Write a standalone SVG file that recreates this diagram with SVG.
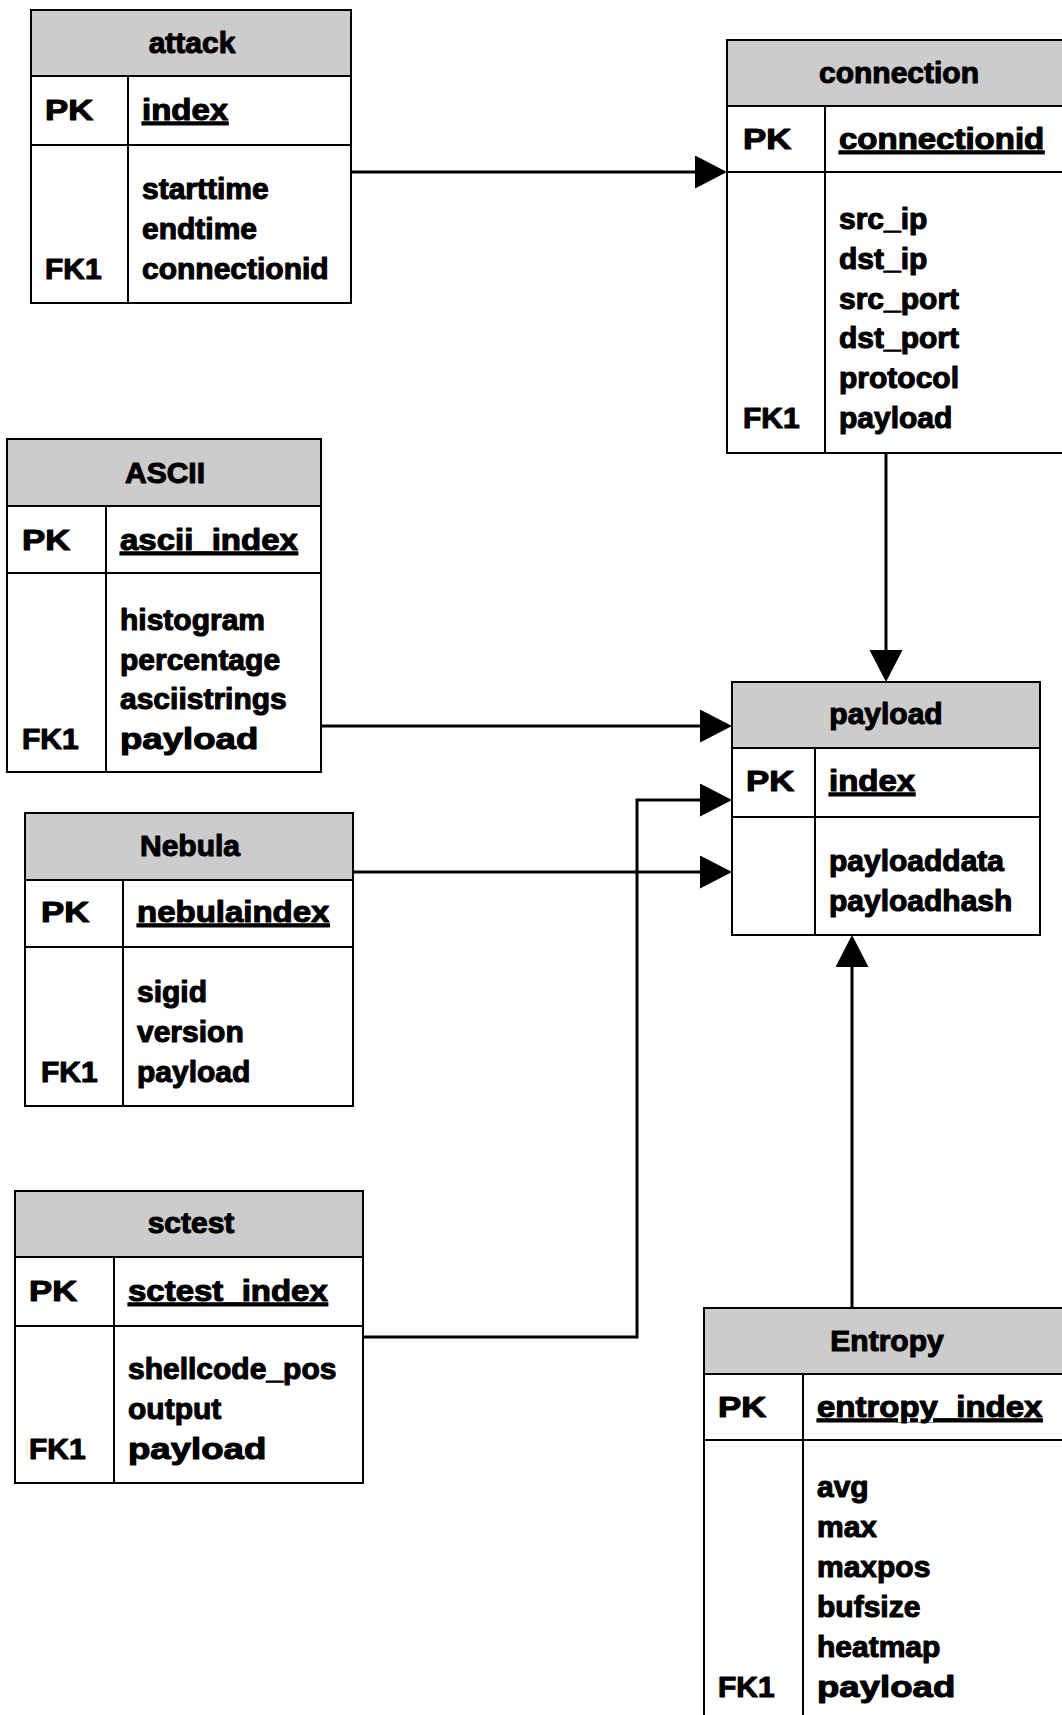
<svg xmlns="http://www.w3.org/2000/svg" width="1062" height="1715" viewBox="0 0 1062 1715">
  <style>
    .hdr { fill: #cccccc; stroke: #000; stroke-width: 2; }
    .box { fill: #ffffff; stroke: #000; stroke-width: 2; }
    .sep { stroke: #000; stroke-width: 2; fill: none; }
    text { font-family: "Liberation Sans", Arial, sans-serif; font-weight: bold; font-size: 30px; fill: #000; stroke: #000; stroke-width: 1.1; stroke-linejoin: round; }
    .title { text-anchor: middle; }
    .key { text-decoration: underline; }
    .conn { stroke: #000; stroke-width: 3; fill: none; marker-end: url(#arrow); }
  </style>
  <defs>
    <marker id="arrow" markerUnits="userSpaceOnUse" markerWidth="33" markerHeight="34" refX="0" refY="16.5" orient="auto">
      <path d="M0,0 L32,16.5 L0,33 Z" fill="#000"/>
    </marker>
  </defs>
  <rect width="1062" height="1715" fill="#ffffff"/>

  <!-- key columns and a few field names are set in a horizontally widened face (matrix sx) -->

  <!-- attack -->
  <g id="attack">
    <rect class="box" x="31" y="10" width="320" height="293"/>
    <rect class="hdr" x="31" y="10" width="320" height="66"/>
    <line class="sep" x1="31" y1="145" x2="351" y2="145"/>
    <line class="sep" x1="128" y1="76" x2="128" y2="303"/>
    <text class="title" x="192" y="53">attack</text>
    <text transform="matrix(1.16 0 0 1 45 120)">PK</text>
    <text class="key" transform="matrix(1.1 0 0 1 142 120)">index</text>
    <text x="142" y="199">starttime</text>
    <text x="142" y="239">endtime</text>
    <text x="45" y="279">FK1</text>
    <text x="142" y="279">connectionid</text>
  </g>

  <!-- connection -->
  <g id="connection">
    <rect class="box" x="727" y="40" width="344" height="413"/>
    <rect class="hdr" x="727" y="40" width="344" height="66"/>
    <line class="sep" x1="727" y1="172" x2="1071" y2="172"/>
    <line class="sep" x1="825" y1="106" x2="825" y2="453"/>
    <text class="title" x="899" y="83">connection</text>
    <text transform="matrix(1.16 0 0 1 743 149)">PK</text>
    <text class="key" transform="matrix(1.1 0 0 1 839 149)">connectionid</text>
    <text x="839" y="229">src_ip</text>
    <text x="839" y="269">dst_ip</text>
    <text x="839" y="309">src_port</text>
    <text x="839" y="348">dst_port</text>
    <text x="839" y="388">protocol</text>
    <text x="743" y="428">FK1</text>
    <text x="839" y="428">payload</text>
  </g>

  <!-- ASCII -->
  <g id="ascii">
    <rect class="box" x="7" y="439" width="314" height="333"/>
    <rect class="hdr" x="7" y="439" width="314" height="67"/>
    <line class="sep" x1="7" y1="573" x2="321" y2="573"/>
    <line class="sep" x1="106" y1="506" x2="106" y2="772"/>
    <text class="title" x="165" y="483">ASCII</text>
    <text transform="matrix(1.16 0 0 1 22 550)">PK</text>
    <text class="key" transform="matrix(1.1 0 0 1 120 550)">ascii_index</text>
    <text x="120" y="630">histogram</text>
    <text x="120" y="670">percentage</text>
    <text x="120" y="709">asciistrings</text>
    <text x="22" y="749">FK1</text>
    <text transform="matrix(1.22 0 0 1 120 749)">payload</text>
  </g>

  <!-- Nebula -->
  <g id="nebula">
    <rect class="box" x="25" y="813" width="328" height="293"/>
    <rect class="hdr" x="25" y="813" width="328" height="67"/>
    <line class="sep" x1="25" y1="947" x2="353" y2="947"/>
    <line class="sep" x1="123" y1="880" x2="123" y2="1106"/>
    <text class="title" x="190" y="856">Nebula</text>
    <text transform="matrix(1.16 0 0 1 41 922)">PK</text>
    <text class="key" transform="matrix(1.1 0 0 1 137 922)">nebulaindex</text>
    <text x="137" y="1002">sigid</text>
    <text x="137" y="1042">version</text>
    <text x="41" y="1082">FK1</text>
    <text x="137" y="1082">payload</text>
  </g>

  <!-- sctest -->
  <g id="sctest">
    <rect class="box" x="15" y="1191" width="348" height="292"/>
    <rect class="hdr" x="15" y="1191" width="348" height="66"/>
    <line class="sep" x1="15" y1="1326" x2="363" y2="1326"/>
    <line class="sep" x1="114" y1="1257" x2="114" y2="1483"/>
    <text class="title" x="191" y="1233">sctest</text>
    <text transform="matrix(1.16 0 0 1 29 1301)">PK</text>
    <text class="key" transform="matrix(1.1 0 0 1 128 1301)">sctest_index</text>
    <text x="128" y="1379">shellcode_pos</text>
    <text x="128" y="1419">output</text>
    <text x="29" y="1459">FK1</text>
    <text transform="matrix(1.22 0 0 1 128 1459)">payload</text>
  </g>

  <!-- payload -->
  <g id="payload">
    <rect class="box" x="732" y="682" width="308" height="253"/>
    <rect class="hdr" x="732" y="682" width="308" height="66"/>
    <line class="sep" x1="732" y1="817" x2="1040" y2="817"/>
    <line class="sep" x1="815" y1="748" x2="815" y2="935"/>
    <text class="title" x="886" y="724">payload</text>
    <text transform="matrix(1.16 0 0 1 746 791)">PK</text>
    <text class="key" transform="matrix(1.1 0 0 1 829 791)">index</text>
    <text x="829" y="871">payloaddata</text>
    <text x="829" y="911">payloadhash</text>
  </g>

  <!-- Entropy -->
  <g id="entropy">
    <rect class="box" x="704" y="1308" width="367" height="413"/>
    <rect class="hdr" x="704" y="1308" width="367" height="66"/>
    <line class="sep" x1="704" y1="1440" x2="1071" y2="1440"/>
    <line class="sep" x1="803" y1="1374" x2="803" y2="1721"/>
    <text class="title" x="887" y="1351">Entropy</text>
    <text transform="matrix(1.16 0 0 1 718 1417)">PK</text>
    <text class="key" transform="matrix(1.1 0 0 1 817 1417)">entropy_index</text>
    <text x="817" y="1497">avg</text>
    <text x="817" y="1537">max</text>
    <text x="817" y="1577">maxpos</text>
    <text x="817" y="1617">bufsize</text>
    <text x="817" y="1657">heatmap</text>
    <text x="718" y="1697">FK1</text>
    <text transform="matrix(1.22 0 0 1 817 1697)">payload</text>
  </g>

  <!-- relationships: each path stops at the arrow base, the marker draws the head -->
  <g id="connectors">
    <path class="conn" d="M351,172 H695"/>
    <path class="conn" d="M886,453 V650"/>
    <path class="conn" d="M321,726 H700"/>
    <path class="conn" d="M363,1337 H637 V800 H700"/>
    <path class="conn" d="M353,872 H700"/>
    <path class="conn" d="M852,1308 V967"/>
  </g>
</svg>
